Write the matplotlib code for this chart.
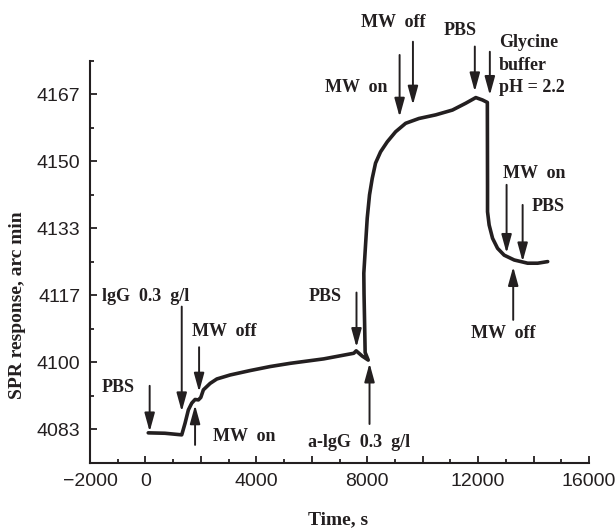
import matplotlib
matplotlib.use("Agg")
import matplotlib.pyplot as plt
from matplotlib.ticker import MultipleLocator, FixedLocator, FixedFormatter

# SPR sensorgram
time_s = [101, 700, 1309, 1429, 1548, 1671, 1790, 1910, 1996, 2090, 2333, 2575,
          3056, 3779, 4503, 5226, 6430, 7515, 7602, 7819, 8036, 7925, 7905, 7885,
          7877, 7939, 8000, 8083, 8181, 8300, 8481, 8723, 9024, 9385, 9866, 10470,
          11074, 11555, 11917, 12159, 12333, 12340, 12340, 12398, 12521, 12702,
          12940, 13302, 13787, 14148, 14510]
spr = [4082.5, 4082.4, 4082.0, 4084.9, 4088.2, 4089.9, 4090.8, 4090.7, 4091.3,
       4093.2, 4094.8, 4095.9, 4096.9, 4098.0, 4099.0, 4099.8, 4100.9, 4102.3,
       4102.9, 4101.6, 4100.6, 4102.5, 4110.0, 4117.0, 4122.2, 4129.2, 4135.9,
       4141.7, 4145.8, 4149.6, 4152.4, 4154.9, 4157.4, 4159.5, 4160.7, 4161.6,
       4162.8, 4164.5, 4165.9, 4165.3, 4164.7, 4144.2, 4137.5, 4134.2, 4130.9,
       4128.4, 4126.7, 4125.5, 4124.7, 4124.7, 4125.1]

# event arrows: x, tail y, head y
arrow_x = [152, 1309, 1935, 1790, 7613, 8083, 13266, 9168, 9649, 11881, 12423, 13027, 13606]
arrow_tail = [4094.2, 4113.9, 4103.8, 4079.5, 4117.4, 4084.7, 4110.6, 4176.5, 4179.8, 4178.6, 4177.3, 4144.2, 4139.2]
arrow_head = [4082.8, 4087.8, 4092.7, 4089.4, 4103.8, 4099.8, 4123.8, 4161.1, 4164.1, 4167.4, 4166.5, 4127.2, 4125.1]

# event labels: text, left x, centre y
labels = ["PBS", "lgG  0.3  g/l", "MW  off", "MW  on", "PBS", "a-lgG  0.3  g/l", "MW  off",
          "MW  on", "MW  off", "PBS", "Glycine\nbuffer\npH = 2.2", "MW  on", "PBS"]
label_x = [-1570, -1570, 1682, 2441, 5877, 5877, 11736, 6492, 7758, 10759, 12749, 12893, 13942]
label_y = [4093.7, 4116.5, 4107.6, 4081.5, 4116.3, 4080.2, 4107.3, 4168.5, 4184.5, 4182.7, 4174.0, 4147.1, 4138.7]

y_ticks = [4075 + 25 / 3 + i * 50 / 3 for i in range(6)]
y_ticklabels = ["4083", "4100", "4117", "4133", "4150", "4167"]
x_ticks = [-2000, 0, 2000, 4000, 6000, 8000, 10000, 12000, 14000, 16000]
x_ticklabels = ["\u22122000", "0", "", "4000", "", "8000", "", "12000", "", "16000"]

ink = "#231f20"
serif = "Liberation Serif"

fig = plt.figure(figsize=(6.15, 5.29), dpi=100)
ax = fig.add_axes([90 / 615, 1 - 463 / 529, 499 / 615, 402 / 529])

ax.plot(time_s, spr, color=ink, lw=2.6, solid_joinstyle="round", solid_capstyle="round")

for x, t, h in zip(arrow_x, arrow_tail, arrow_head):
    ax.annotate("", xy=(x, h), xytext=(x, t), annotation_clip=False,
                arrowprops=dict(arrowstyle="-|>,head_length=0.8,head_width=0.22",
                                color=ink, lw=1.4, shrinkA=0, shrinkB=0,
                                mutation_scale=14))

for txt, x, y in zip(labels, label_x, label_y):
    ax.text(x, y, txt, family=serif, weight="bold", fontsize=13, color=ink,
            ha="left", va="center", clip_on=False, linespacing=1.45)

ax.set_xlim(-2000, 16000)
ax.set_ylim(4075, 4175)
ax.xaxis.set_major_locator(FixedLocator(x_ticks))
ax.xaxis.set_major_formatter(FixedFormatter(x_ticklabels))
ax.xaxis.set_minor_locator(MultipleLocator(1000))
ax.yaxis.set_major_locator(FixedLocator(y_ticks))
ax.yaxis.set_major_formatter(FixedFormatter(y_ticklabels))
ax.yaxis.set_minor_locator(FixedLocator([4075 + i * 50 / 3 for i in range(7)]))

for s in ["top", "right"]:
    ax.spines[s].set_visible(False)
for s in ["left", "bottom"]:
    ax.spines[s].set_linewidth(1.5)
    ax.spines[s].set_color(ink)

ax.tick_params(which="both", direction="in", color=ink, width=1.3)
ax.tick_params(which="major", length=5)
ax.tick_params(which="minor", length=3)
ax.tick_params(axis="x", pad=7, labelsize=14, labelcolor=ink)
ax.tick_params(axis="y", pad=7, labelsize=14, labelcolor=ink)
for lab in ax.get_xticklabels() + ax.get_yticklabels():
    lab.set_family("Liberation Sans")

fig.text(338 / 615, 1 - 520 / 529, "Time, s", family=serif, weight="bold",
         fontsize=14, color=ink, ha="center", va="center")
fig.text(18 / 615, 1 - 305 / 529, "SPR response, arc min", family=serif,
         weight="bold", fontsize=14, color=ink, ha="center", va="center",
         rotation=90)

fig.savefig("out.png", dpi=100)
